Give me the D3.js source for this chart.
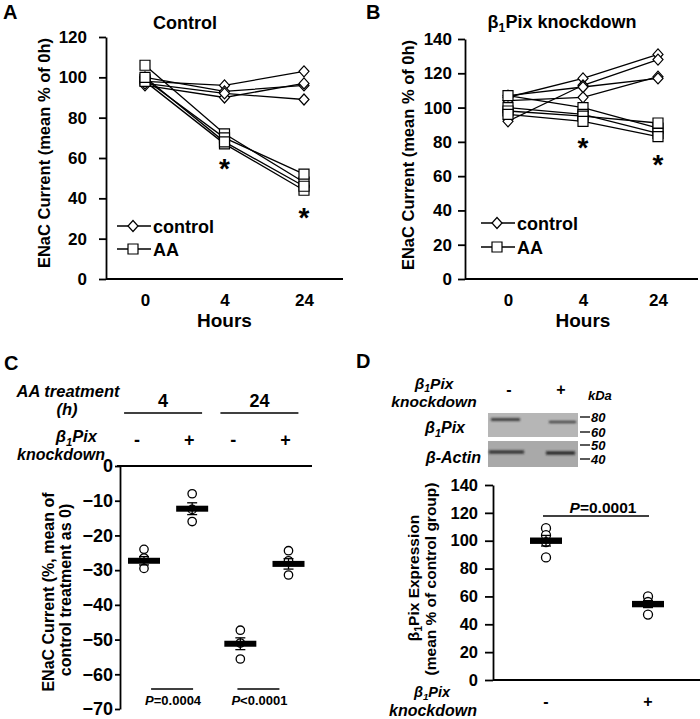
<!DOCTYPE html>
<html><head><meta charset="utf-8">
<script src="https://cdn.jsdelivr.net/npm/d3@7"></script>
<style>
body{margin:0;background:#fff;}
svg{display:block;font-family:"Liberation Sans",Arial,Helvetica,sans-serif;font-weight:bold;}
</style></head><body>
<svg id="fig" width="700" height="719"></svg>
<script>
// ---------------- data ----------------
const hours = ["0", "4", "24"];
const aTicks = [0, 20, 40, 60, 80, 100, 120];
const bTicks = [0, 20, 40, 60, 80, 100, 120, 140];
// Panel A (Control): ENaC current, % of 0h
const aControl = [[98, 96, 103], [100, 93, 96], [96, 90, 97], [97, 92, 89]];
const aAA = [[106, 72, 48], [99, 70, 52], [98, 67, 44], [100, 68, 46]];
const aStars = ["4", "24"];
// Panel B (β1Pix knockdown)
const bControl = [[106, 117, 131], [92, 113, 128], [104, 106, 118], [107, 112, 117]];
const bAA = [[107, 100, 88], [100, 96, 85], [98, 95, 91], [96, 92, 83]];
const bStars = ["4", "24"];
// Panel C
const cHours = ["4", "24"];
const cGroups = ["4|-", "4|+", "24|-", "24|+"];
const cKd = ["-", "+", "-", "+"];
const cMeans = [-27.3, -12.3, -51.2, -28.2];
const cSem = [1.2, 1.7, 1.7, 1.5];
const cPoints = [[-24, -26.5, -29.5], [-8, -12.5, -16], [-47.3, -51, -55.6], [-24.4, -27.3, -31.4]];
const cTicks = [0, -10, -20, -30, -40, -50, -60, -70];
const cPvals = ["=0.0004", "<0.0001"];
// Panel D
const dGroups = ["-", "+"];
const dMeans = [100, 54.5];
const dSem = [3.8, 2.5];
const dPoints = [[109, 104, 99, 88], [60, 56, 47]];
const dTicks = [0, 20, 40, 60, 80, 100, 120, 140];
const dPval = "=0.0001";
const kdaMarkers = ["80", "60", "50", "40"];

// ---------------- helpers ----------------
const svg = d3.select("#fig");
svg.append("rect").attr("width", 700).attr("height", 719).attr("fill", "#fff");
const FONT = '"Liberation Sans", Arial, Helvetica, sans-serif';
const SW = 1.8;

function styleAxis(a, fs) {
  a.attr("font-family", FONT).attr("font-size", fs).attr("font-weight", "bold");
  a.select(".domain").attr("stroke", "#000").attr("stroke-width", SW);
  a.selectAll(".tick line").attr("stroke", "#000").attr("stroke-width", SW);
  a.selectAll(".tick text").attr("fill", "#000");
}
function txt(g, x, y, s, o = {}) {
  return g.append("text").attr("x", x).attr("y", y)
    .attr("font-size", o.fs || 17).attr("text-anchor", o.anchor || "middle")
    .attr("font-style", o.italic ? "italic" : null).attr("fill", "#000").text(s);
}
function beta(t, fs, rest) {
  t.append("tspan").text("β");
  t.append("tspan").attr("font-size", fs * 0.68).attr("dy", fs * 0.22).text("1");
  t.append("tspan").attr("dy", -fs * 0.22).text("Pix" + rest);
  return t;
}
function bTxt(g, x, y, rest, o = {}) {
  const t = txt(g, x, y, "", o);
  return beta(t, o.fs || 17, rest);
}
function ylab(g, x, y, s, fs) {
  return g.append("text").attr("transform", `translate(${x},${y}) rotate(-90)`)
    .attr("text-anchor", "middle").attr("font-size", fs).attr("fill", "#000").text(s);
}
const diamondPath = "M0,-5.5L5,0L0,5.5L-5,0Z";
const squarePath = d3.symbol(d3.symbolSquare, 100)();

// ---------------- panels A & B ----------------
function lineChart(cfg) {
  const g = svg.append("g");
  const y = d3.scaleLinear([0, cfg.ymax], [cfg.y0, cfg.y1]);
  const x = d3.scalePoint(hours, [cfg.xa, cfg.xb]);
  g.append("g").attr("transform", `translate(${cfg.ax},0)`)
    .call(d3.axisLeft(y).tickValues(cfg.ticks).tickSize(7).tickSizeOuter(0).tickPadding(cfg.pad))
    .call(a => styleAxis(a, 17));
  const xg = g.append("g").attr("transform", `translate(0,${cfg.y0})`)
    .call(d3.axisBottom(x).tickSize(0).tickPadding(15)).call(a => styleAxis(a, 17));
  xg.select(".domain").remove();
  g.append("line").attr("x1", cfg.ax).attr("x2", cfg.xend).attr("y1", cfg.y0).attr("y2", cfg.y0)
    .attr("stroke", "#000").attr("stroke-width", SW);
  txt(g, x("4"), 327, "Hours", { fs: 19 });
  const line = d3.line().x((d, i) => x(hours[i])).y(d => y(d));
  const series = [...cfg.control.map(v => ({ v, t: "di" })), ...cfg.aa.map(v => ({ v, t: "sq" }))];
  g.selectAll("path.ln").data(series).join("path").attr("class", "ln")
    .attr("d", d => line(d.v)).attr("fill", "none").attr("stroke", "#000").attr("stroke-width", 1.3);
  const pts = series.flatMap(s => s.v.map((v, i) => ({ x: x(hours[i]), y: y(v), t: s.t })));
  g.selectAll("path.mk").data(pts).join("path").attr("class", "mk")
    .attr("transform", d => `translate(${d.x},${d.y})`)
    .attr("d", d => d.t === "di" ? diamondPath : squarePath)
    .attr("fill", "#fff").attr("stroke", "#000").attr("stroke-width", 1.2);
  // stars
  cfg.stars.forEach((h, i) => txt(g, x(h), cfg.starY[i], "*", { fs: 28 }));
  // legend
  const L = cfg.legend;
  [["di", "control", L.y[0]], ["sq", "AA", L.y[1]]].forEach(([t, lab, ly]) => {
    g.append("line").attr("x1", L.x).attr("x2", L.x + 34).attr("y1", ly).attr("y2", ly)
      .attr("stroke", "#000").attr("stroke-width", 1.3);
    g.append("path").attr("transform", `translate(${L.x + 16},${ly})`)
      .attr("d", t === "di" ? diamondPath : squarePath).attr("fill", "#fff").attr("stroke", "#000").attr("stroke-width", 1.2);
    txt(g, L.x + 36, ly + 6.5, lab, { fs: 18, anchor: "start" });
  });
  return g;
}

const gA = lineChart({ ymax: 120, y0: 279, y1: 37, xa: 145, xb: 304, ax: 106, xend: 343, pad: 12,
  ticks: aTicks, control: aControl, aa: aAA, stars: aStars, starY: [178, 227],
  legend: { x: 117, y: [226, 249] } });
txt(gA, 3, 19, "A", { fs: 20, anchor: "start" });
txt(gA, 185, 29, "Control", { fs: 18 });
ylab(gA, 50, 153, "ENaC Current (mean % of 0h)", 16.5);

const gB = lineChart({ ymax: 140, y0: 279, y1: 39, xa: 508, xb: 658, ax: 465, xend: 698, pad: 6,
  ticks: bTicks, control: bControl, aa: bAA, stars: bStars, starY: [157, 174],
  legend: { x: 481, y: [223, 247] } });
txt(gB, 366, 19, "B", { fs: 20, anchor: "start" });
bTxt(gB, 562, 28, " knockdown", { fs: 18 });
ylab(gB, 414, 155, "ENaC Current (mean % of 0h)", 16.5);

// ---------------- panel C ----------------
const gC = svg.append("g");
const yC = d3.scaleLinear([-70, 0], [709, 466]);
const xC = d3.scalePoint(cGroups, [144, 288.5]);
gC.append("g").attr("transform", "translate(120,0)")
  .call(d3.axisLeft(yC).tickValues(cTicks).tickSize(5).tickSizeOuter(0).tickPadding(2))
  .call(a => styleAxis(a, 18));
gC.append("line").attr("x1", 117).attr("x2", 312).attr("y1", yC(0)).attr("y2", yC(0))
  .attr("stroke", "#000").attr("stroke-width", SW);
txt(gC, 4, 370, "C", { fs: 20, anchor: "start" });
// header
txt(gC, 68, 397, "AA treatment", { fs: 16.5, italic: true });
txt(gC, 67, 415, "(h)", { fs: 16.5, italic: true });
bTxt(gC, 97, 442, "", { fs: 16.5, italic: true, anchor: "end" });
txt(gC, 61, 460, "knockdown", { fs: 16, italic: true });
cHours.forEach(h => {
  const cx = (xC(h + "|-") + xC(h + "|+")) / 2 - 5;
  txt(gC, cx, 407, h, { fs: 18 });
  gC.append("line").attr("x1", cx - 39).attr("x2", cx + 39).attr("y1", 413).attr("y2", 413)
    .attr("stroke", "#000").attr("stroke-width", 1.5);
});
cGroups.forEach((k, i) => txt(gC, xC(k) - (cKd[i] === "-" ? 7 : 3), 446, cKd[i], { fs: 18 }));
// points, bars, error bars
cGroups.forEach((k, i) => {
  const cx = xC(k);
  gC.selectAll(null).data(cPoints[i]).join("circle")
    .attr("cx", cx).attr("cy", d => yC(d)).attr("r", 4.2)
    .attr("fill", "#fff").attr("stroke", "#000").attr("stroke-width", 1.3);
  gC.append("line").attr("x1", cx).attr("x2", cx).attr("y1", yC(cMeans[i] - cSem[i])).attr("y2", yC(cMeans[i] + cSem[i]))
    .attr("stroke", "#000").attr("stroke-width", 1.3);
  [cMeans[i] - cSem[i], cMeans[i] + cSem[i]].forEach(v =>
    gC.append("line").attr("x1", cx - 5).attr("x2", cx + 5).attr("y1", yC(v)).attr("y2", yC(v))
      .attr("stroke", "#000").attr("stroke-width", 1.3));
  gC.append("rect").attr("x", cx - 16).attr("width", 32).attr("y", yC(cMeans[i]) - 3).attr("height", 6).attr("fill", "#000");
});
ylab(gC, 54, 592, "ENaC Current (%, mean of", 16);
ylab(gC, 71, 590, "control treatment as 0)", 16);
// P values
cHours.forEach((h, i) => {
  const cx = (xC(h + "|-") + xC(h + "|+")) / 2 + (i === 0 ? 4 : -6);
  gC.append("line").attr("x1", cx - 21).attr("x2", cx + 21).attr("y1", 689).attr("y2", 689)
    .attr("stroke", "#000").attr("stroke-width", 1.5);
  const t = txt(gC, cx + 1, 705, "", { fs: 13 });
  t.append("tspan").attr("font-style", "italic").text("P");
  t.append("tspan").text(cPvals[i]);
});

// ---------------- panel D ----------------
const gD = svg.append("g");
const yD = d3.scaleLinear([0, 140], [680, 485]);
const xD = d3.scalePoint(dGroups, [546, 648]);
txt(gD, 356, 368, "D", { fs: 20, anchor: "start" });
// header
bTxt(gD, 434, 389, "", { fs: 15.5, italic: true });
txt(gD, 434, 407, "knockdown", { fs: 15.5, italic: true });
txt(gD, 509, 395, "-", { fs: 16 });
txt(gD, 561, 395, "+", { fs: 16 });
txt(gD, 588, 400, "kDa", { fs: 13, italic: true, anchor: "start" });
// blot
const defs = svg.append("defs");
defs.append("filter").attr("id", "blur").attr("x", "-20%").attr("y", "-200%").attr("width", "140%").attr("height", "500%")
  .append("feGaussianBlur").attr("stdDeviation", 0.9);
gD.append("rect").attr("x", 488).attr("y", 413).attr("width", 90).attr("height", 24).attr("fill", "#b6b6b6");
gD.append("rect").attr("x", 488).attr("y", 441).attr("width", 90).attr("height", 26).attr("fill", "#a9a9a9");
[[491, 520, 419.5, 2.6, "#2e2e2e"], [549, 576, 422, 2.2, "#3a3a3a"], [489, 524, 452, 3.0, "#262626"], [546, 575, 453, 3.2, "#202020"]]
  .forEach(([x1, x2, y, h, c]) => gD.append("rect").attr("x", x1).attr("width", x2 - x1).attr("y", y - h / 2).attr("height", h)
    .attr("fill", c).attr("filter", "url(#blur)"));
[417, 432, 445, 459].forEach((y, i) => {
  gD.append("line").attr("x1", 580).attr("x2", 590).attr("y1", y).attr("y2", y).attr("stroke", "#000").attr("stroke-width", 1.3);
  txt(gD, 591, y + 4.5, kdaMarkers[i], { fs: 13, italic: true, anchor: "start" });
});
bTxt(gD, 465, 433, "", { fs: 16, italic: true, anchor: "end" });
txt(gD, 481, 463, "β-Actin", { fs: 16, italic: true, anchor: "end" });
// axes
gD.append("g").attr("transform", "translate(493,0)")
  .call(d3.axisLeft(yD).tickValues(dTicks).tickSize(8).tickSizeOuter(0).tickPadding(7))
  .call(a => styleAxis(a, 16.5));
gD.append("line").attr("x1", 493).attr("x2", 700).attr("y1", yD(0)).attr("y2", yD(0))
  .attr("stroke", "#000").attr("stroke-width", SW);
// points
dGroups.forEach((k, i) => {
  const cx = xD(k);
  gD.selectAll(null).data(dPoints[i]).join("circle")
    .attr("cx", cx).attr("cy", d => yD(d)).attr("r", 4.5)
    .attr("fill", "#fff").attr("stroke", "#000").attr("stroke-width", 1.3);
  gD.append("line").attr("x1", cx).attr("x2", cx).attr("y1", yD(dMeans[i] - dSem[i])).attr("y2", yD(dMeans[i] + dSem[i]))
    .attr("stroke", "#000").attr("stroke-width", 1.3);
  [dMeans[i] - dSem[i], dMeans[i] + dSem[i]].forEach(v =>
    gD.append("line").attr("x1", cx - 5).attr("x2", cx + 5).attr("y1", yD(v)).attr("y2", yD(v))
      .attr("stroke", "#000").attr("stroke-width", 1.3));
  gD.append("rect").attr("x", cx - 16).attr("width", 32).attr("y", yD(dMeans[i]) - 3.2).attr("height", 6.4).attr("fill", "#000");
  txt(gD, cx, 707, k, { fs: 16 });
});
// P value bracket
gD.append("line").attr("x1", xD("-") - 3).attr("x2", xD("+") + 1).attr("y1", 516).attr("y2", 516)
  .attr("stroke", "#000").attr("stroke-width", 1.5);
{
  const t = txt(gD, 603, 513, "", { fs: 15.5 });
  t.append("tspan").attr("font-style", "italic").text("P");
  t.append("tspan").text(dPval);
}
// y label
{
  const t = gD.append("text").attr("transform", "translate(419,578) rotate(-90)")
    .attr("text-anchor", "middle").attr("font-size", 15.5).attr("fill", "#000");
  beta(t, 15.5, " Expression");
}
ylab(gD, 436, 579, "(mean % of control group)", 15.5);
bTxt(gD, 432, 697, "", { fs: 14.5, italic: true });
txt(gD, 433, 716, "knockdown", { fs: 16, italic: true });
</script>
</body></html>
